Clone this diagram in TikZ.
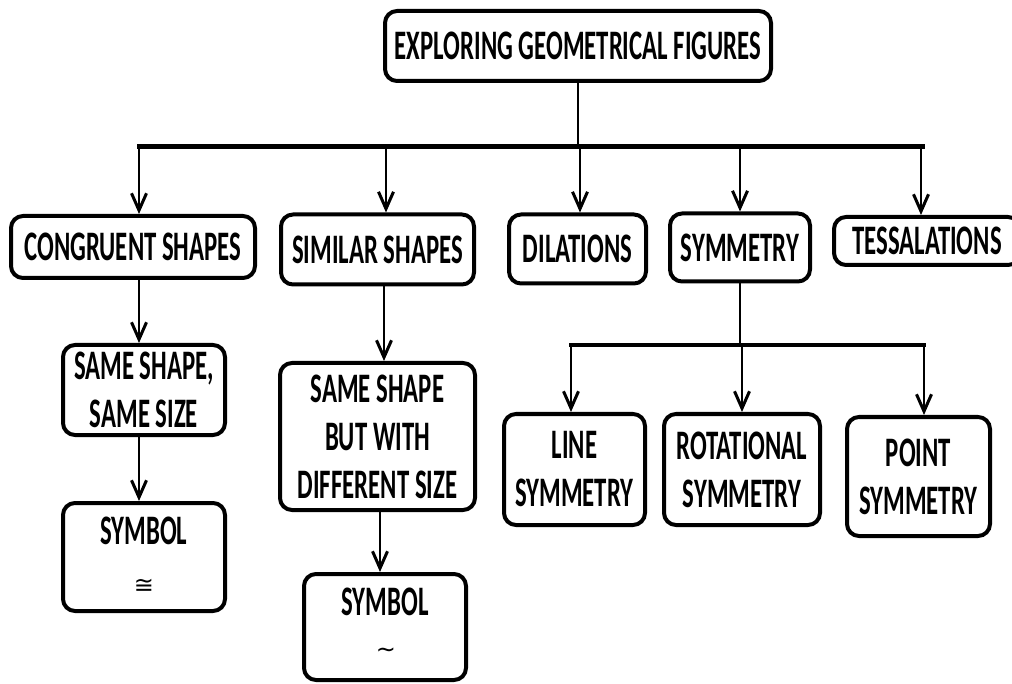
\documentclass[tikz,border=0pt]{standalone}
\usepackage{fontspec}
\setmainfont{Carlito}[FakeStretch=0.59]
\newfontfamily\symfont{DejaVu Sans}
\usetikzlibrary{arrows.meta}
\begin{document}
\begin{tikzpicture}[x=1pt,y=-1pt,
  txt/.style={font=\fontsize{42}{48}\selectfont\bfseries},
  box/.style={draw, line width=4pt, rounded corners=12pt, align=center, inner sep=0pt, txt},
  symb/.style={inner sep=0pt, font=\symfont\fontsize{24}{24}\selectfont},
  arr/.style={line width=2.5pt, -{Straight Barb[length=17pt,width=15pt,line width=3pt]}},
  stem/.style={line width=2.5pt},
  bar/.style={line width=5pt, line cap=rect}]
\useasboundingbox (0,0) rectangle (1012,684);
% nodes
\node[box, minimum width=386pt, minimum height=70pt] (top) at (578,46) {EXPLORING GEOMETRICAL FIGURES};
\node[box, minimum width=244pt, minimum height=62pt] (cong) at (133,247) {CONGRUENT SHAPES};
\node[box, minimum width=193pt, minimum height=70pt] (sim) at (377.5,249.5) {SIMILAR SHAPES};
\node[box, minimum width=137pt, minimum height=69pt] (dil) at (577.5,249) {DILATIONS};
\node[box, minimum width=140pt, minimum height=68pt] (sym) at (740,247.5) {SYMMETRY};
\node[box, minimum width=186pt, minimum height=48pt] (tess) at (927,241) {TESSALATIONS};
\node[box, minimum width=162pt, minimum height=90pt] (same1) at (144,390) {SAME SHAPE,\\SAME SIZE};
\node[box, minimum width=162pt, minimum height=108pt] (sym1) at (144,557) {};
\node[txt, inner sep=0pt] (sym1t) at (144,531) {SYMBOL};
\node[symb] (sym1s) at (144,586) {≅};
\node[box, minimum width=195pt, minimum height=147pt] (same2) at (377.5,436.5) {SAME SHAPE\\BUT WITH\\DIFFERENT SIZE};
\node[box, minimum width=162pt, minimum height=106pt] (sym2) at (385,627) {};
\node[txt, inner sep=0pt] (sym2t) at (385,602) {SYMBOL};
\node[symb] (sym2s) at (386,653) {∼};
\node[box, minimum width=141pt, minimum height=111pt] (line) at (574.5,469.5) {LINE\\SYMMETRY};
\node[box, minimum width=156pt, minimum height=111pt] (rot) at (742,469.5) {ROTATIONAL\\SYMMETRY};
\node[box, minimum width=143pt, minimum height=119pt] (point) at (918.5,476.5) {POINT\\SYMMETRY};
% main branching
\coordinate (bL) at (139,147);
\coordinate (bR) at (922,147);
\coordinate (d2) at (386,147);
\coordinate (d3) at (580,147);
\coordinate (d4) at (740,147);
\coordinate (d5) at (921,147);
\draw[stem] (top.south) -- (top.south |- bL);
\draw[bar] (bL) -- (bR);
\draw[arr] (bL) -- (bL |- cong.north);
\draw[arr] (d2) -- (d2 |- sim.north);
\draw[arr] (d3) -- (d3 |- dil.north);
\draw[arr] (d4) -- (d4 |- sym.north);
\draw[arr] (d5) -- (d5 |- tess.north);
% congruent chain
\draw[arr] (bL |- cong.south) -- (bL |- same1.north);
\draw[arr] (bL |- same1.south) -- (bL |- sym1.north);
% similar chain
\coordinate (c2) at (384,0);
\coordinate (c3) at (380,0);
\draw[arr] (c2 |- sim.south) -- (c2 |- same2.north);
\draw[arr] (c3 |- same2.south) -- (c3 |- sym2.north);
% symmetry branching
\coordinate (sL) at (571,345);
\coordinate (sM) at (742,345);
\coordinate (sR) at (924,345);
\draw[stem] (sym.south) -- (sym.south |- sL);
\draw[line width=4pt, line cap=rect] (sL) -- (sR);
\draw[arr] (sL) -- (sL |- line.north);
\draw[arr] (sM) -- (sM |- rot.north);
\draw[arr] (sR) -- (sR |- point.north);
\end{tikzpicture}
\end{document}
